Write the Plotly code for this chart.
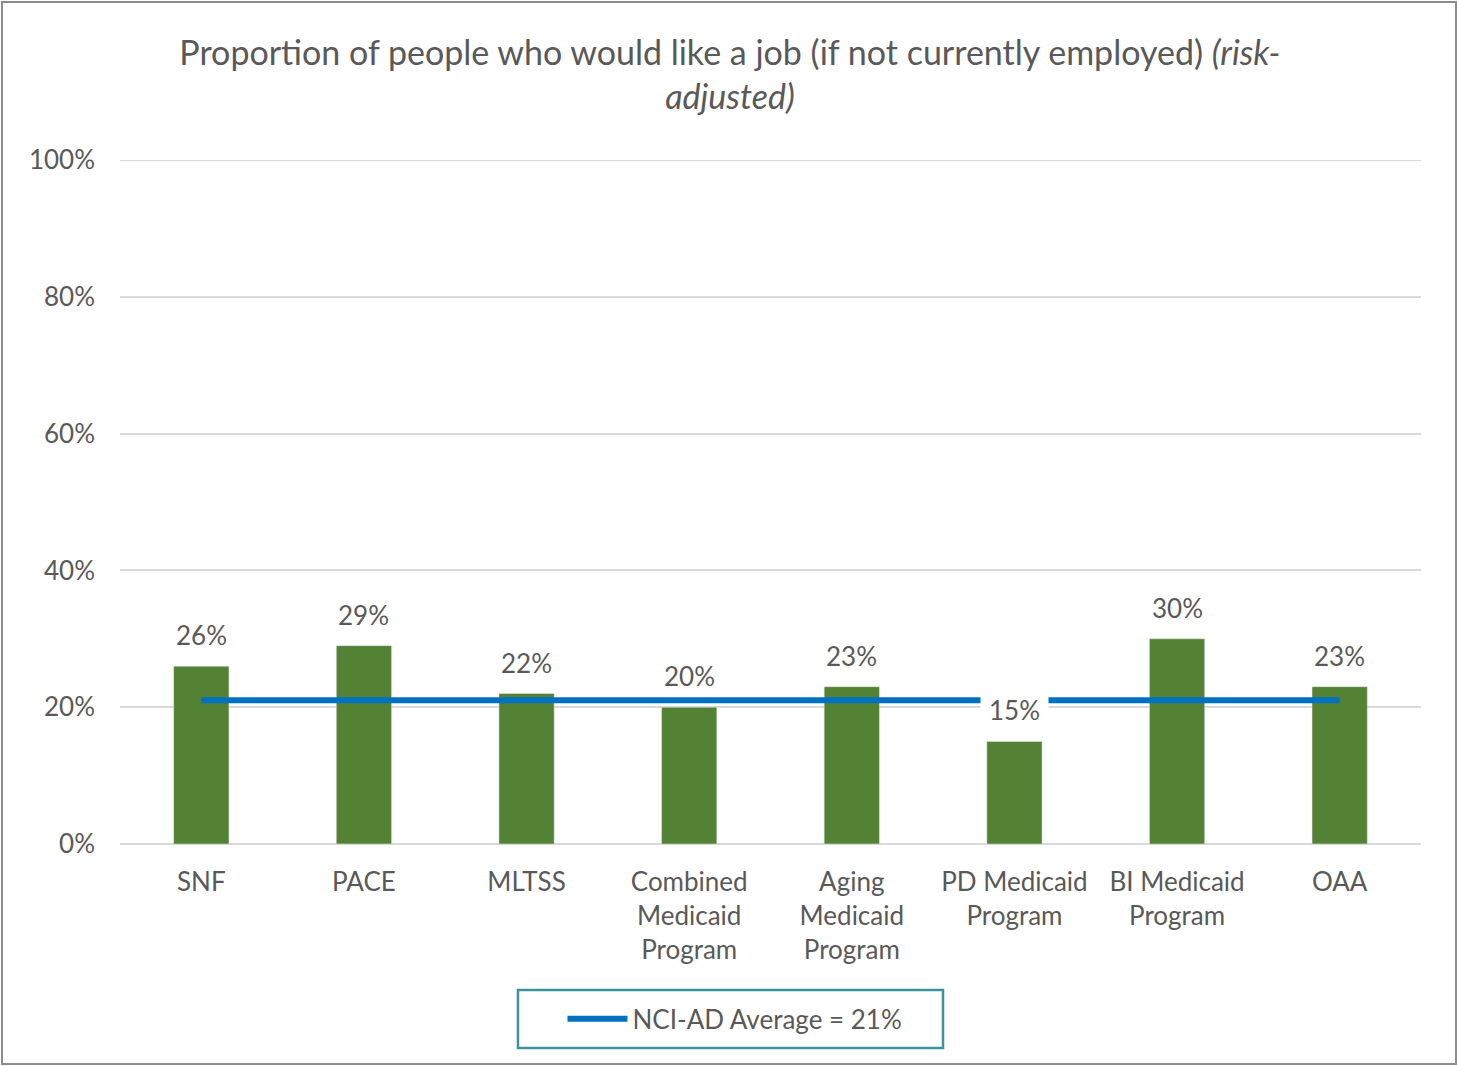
import plotly.graph_objects as go

categories = ["SNF", "PACE", "MLTSS", "Combined<br>Medicaid<br>Program", "Aging<br>Medicaid<br>Program",
              "PD Medicaid<br>Program", "BI Medicaid<br>Program", "OAA"]
values = [26, 29, 22, 20, 23, 15, 30, 23]
average = 21
average_label = "NCI-AD Average = 21%"
title_main = "Proportion of people who would like a job (if not currently employed) "
title_italic = "(risk-"
title_italic2 = "adjusted)"
y_ticks = [0, 20, 40, 60, 80, 100]

FONT = "Lato"
TXT = "#595959"
GRID = "#D9D9D9"

fig = go.Figure()
fig.add_trace(go.Bar(x=categories, y=values, marker_color="#548235", width=0.34,
                     showlegend=False, hoverinfo="skip"))
fig.add_trace(go.Scatter(x=categories, y=[average] * len(categories), mode="lines",
                         line=dict(color="#0070C0", width=6), name=average_label))

for c, v in zip(categories, values):
    overlaps = v < average - 3
    fig.add_annotation(x=c, y=v, text=f"{v}%", showarrow=False, yanchor="middle", yshift=31,
                       font=dict(family=FONT, size=26, color=TXT),
                       bgcolor="white" if overlaps else None, borderpad=8 if overlaps else 1)

fig.update_layout(
    width=1457, height=1066,
    margin=dict(l=120, r=36, t=160, b=222),
    paper_bgcolor="white", plot_bgcolor="white",
    font=dict(family=FONT, size=26, color=TXT),
    title=dict(text=f"{title_main}<i>{title_italic}</i><br><i>{title_italic2}</i>",
               x=0.501, xanchor="center", y=0.939, yanchor="middle",
               font=dict(family=FONT, size=34, color=TXT)),
    xaxis=dict(showgrid=False, showline=False, ticks="", tickfont=dict(size=26, color=TXT)),
    yaxis=dict(range=[0, 100], tickvals=y_ticks, ticktext=[f"{t}%" for t in y_ticks],
               showgrid=True, gridcolor=GRID,
               gridwidth=2, zeroline=True, zerolinecolor=GRID, zerolinewidth=2,
               tickfont=dict(size=26, color=TXT)),
    legend=dict(orientation="h", x=0.4727, xanchor="center", y=-0.2558, yanchor="middle",
                borderwidth=0, font=dict(size=26, color=TXT), bgcolor="rgba(0,0,0,0)",
                itemwidth=60),
    bargap=0.66,
)
fig.update_xaxes(ticklabelstandoff=20)
fig.update_yaxes(ticklabelstandoff=24)
# top gridline (at the edge of the range)
fig.add_shape(type="line", xref="paper", yref="y", x0=0, x1=1, y0=y_ticks[-1], y1=y_ticks[-1],
              line=dict(color=GRID, width=2), layer="below")
# legend box
fig.add_shape(type="rect", xref="paper", yref="paper", x0=0.3059, x1=0.6326, y0=-0.2982, y1=-0.2135,
              line=dict(color="#3E939B", width=2.5), layer="below")
# outer chart border
fig.add_shape(type="rect", xref="paper", yref="paper", x0=-0.0907, x1=1.0269, y0=-0.3216, y1=1.231,
              line=dict(color="#8C8C8C", width=2), layer="below")

html = fig.to_html(full_html=False, include_plotlyjs=True, config={"displayModeBar": False})
with open("out.html", "w", encoding="utf-8") as f:
    f.write("<!DOCTYPE html><html><head><meta charset='utf-8'>"
            "<style>html,body{margin:0;padding:0;overflow:hidden;}</style></head><body>"
            + html + "</body></html>")
